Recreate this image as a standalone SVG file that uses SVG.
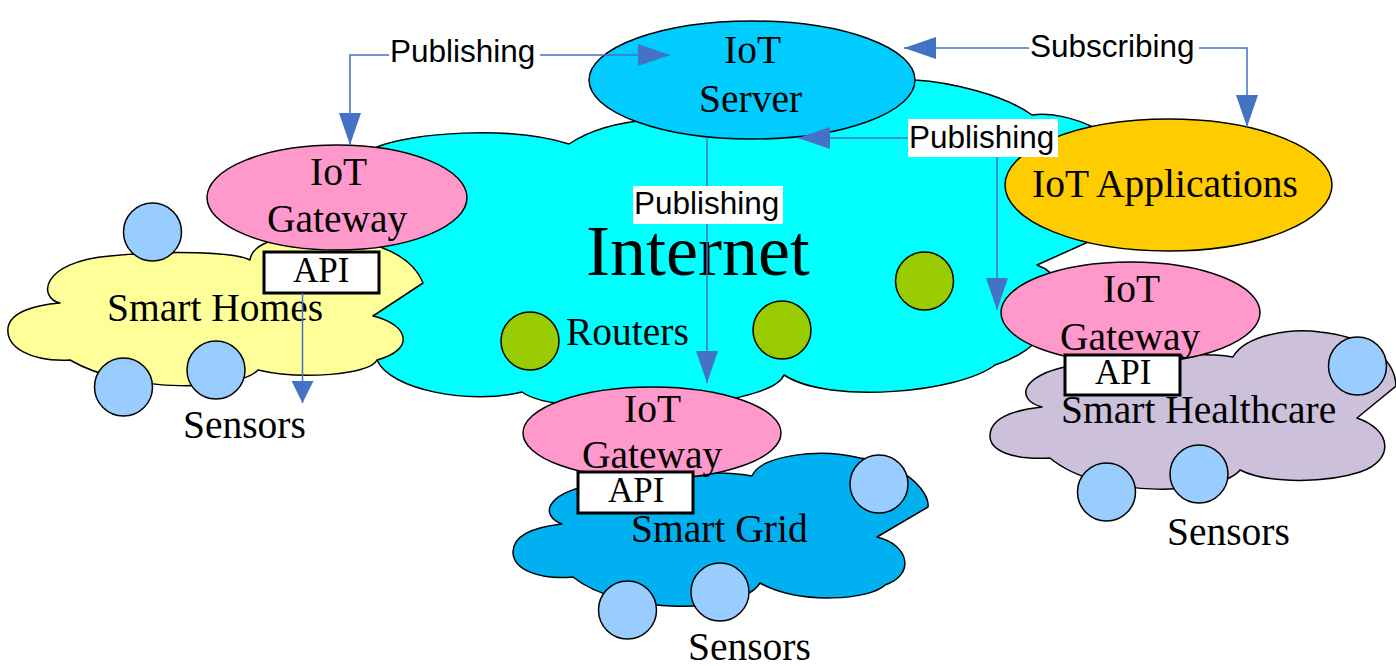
<svg xmlns="http://www.w3.org/2000/svg" width="1396" height="666" viewBox="0 0 1396 666">
  <style>
    .shape { stroke: #000; stroke-width: 1.5; }
    .cloud { stroke: #000; stroke-width: 1.5; stroke-linejoin: round; }
    .sensor { fill: #99CCFF; stroke: #000; stroke-width: 1.5; }
    .router { fill: #99CC00; stroke: #000; stroke-width: 1.5; }
    .gw { fill: #FF99CC; stroke: #000; stroke-width: 1.5; }
    .api { fill: #fff; stroke: #000; stroke-width: 3; }
    .t { font-family: "Liberation Serif", "Times New Roman", serif; font-size: 39.5px; fill: #000; }
    .tapi { font-family: "Liberation Serif", "Times New Roman", serif; font-size: 35px; fill: #000; }
    .big { font-family: "Liberation Serif", "Times New Roman", serif; font-size: 72px; fill: #000; }
    .lbl { font-family: "Liberation Sans", Arial, sans-serif; font-size: 31.5px; fill: #000; }
    .conn { fill: none; stroke: #4472C4; stroke-width: 1.5; }
  </style>
  <defs>
    <marker id="arrow" markerUnits="userSpaceOnUse" viewBox="0 0 32 22" markerWidth="32" markerHeight="22" refX="32" refY="11" orient="auto-start-reverse">
      <path d="M0,0 L32,11 L0,22 Z" fill="#4472C4"/>
    </marker>
    <marker id="arrow-small" markerUnits="userSpaceOnUse" viewBox="0 0 22 22" markerWidth="22" markerHeight="22" refX="22" refY="11" orient="auto">
      <path d="M0,0 L22,11 L0,22 Z" fill="#4472C4"/>
    </marker>
  </defs>

  <!-- Internet cloud -->
  <g id="internet">
    <path class="cloud" fill="#00FFFF" d="M373,316 C350,290 345,190 377,147 C410,133 510,125 569,144 C590,130 620,122 650,120 C700,85 850,72 915,80 C950,82 1005,95 1032,115 C1050,112 1075,118 1095,128 C1140,150 1140,215 1086,243 L1037,265 C1080,280 1060,345 995,365 C960,392 830,405 784,375 C770,410 560,420 522,392 C470,405 390,390 377,360 C360,345 360,325 373,316 Z"/>
    <text class="big" x="586" y="275">Internet</text>
  </g>

  <!-- Routers -->
  <g id="routers">
    <circle class="router" cx="530" cy="341" r="29"/>
    <circle class="router" cx="782" cy="330" r="29"/>
    <circle class="router" cx="924.5" cy="281" r="29"/>
    <text class="t" x="566" y="345">Routers</text>
  </g>

  <!-- Smart Homes cloud with sensors -->
  <g id="smart-homes">
    <path class="cloud" fill="#FFFF99" d="M60,303 C38,298 40,262 110,256 C170,250 235,252 250,260 C252,245 275,235 310,238 C360,235 410,250 423,283 L373,316 C410,325 415,350 377,360 C370,375 300,380 258,370 C240,390 130,395 70,360 C30,362 6,347 8,328 C10,312 35,305 60,303 Z"/>
    <circle class="sensor" cx="152.5" cy="232" r="29"/>
    <circle class="sensor" cx="123.5" cy="387" r="29"/>
    <circle class="sensor" cx="216" cy="370" r="29"/>
    <text class="t" x="107" y="321">Smart Homes</text>
    <text class="t" x="183" y="438">Sensors</text>
  </g>

  <!-- Smart Grid cloud with sensors -->
  <g id="smart-grid">
    <path class="cloud" fill="#00B0F0" d="M562,524 C540,515 545,495 590,485 C640,472 720,470 752,476 C760,455 820,448 860,458 C900,462 930,490 928,507 L877,537 C910,545 915,575 885,585 C870,600 800,605 760,583 C740,615 620,615 573,577 C540,580 513,570 513,552 C513,535 535,527 562,524 Z"/>
    <circle class="sensor" cx="879" cy="484" r="29"/>
    <circle class="sensor" cx="720" cy="592" r="29"/>
    <circle class="sensor" cx="627.5" cy="610" r="29"/>
    <text class="t" x="631" y="542">Smart Grid</text>
    <text class="t" x="688" y="660">Sensors</text>
  </g>

  <!-- Smart Healthcare cloud with sensors -->
  <g id="smart-healthcare">
    <path class="cloud" fill="#CCC0DA" d="M1042,407 C1015,400 1020,375 1070,366 C1130,355 1200,352 1233,357 C1245,335 1290,328 1320,332 C1360,336 1395,355 1396,386 L1357,418 C1392,430 1395,460 1360,472 C1330,482 1270,485 1240,470 C1220,495 1100,500 1050,458 C1010,460 990,450 990,436 C990,418 1015,410 1042,407 Z"/>
    <circle class="sensor" cx="1357.5" cy="366" r="29"/>
    <circle class="sensor" cx="1199" cy="474" r="29"/>
    <circle class="sensor" cx="1106.5" cy="492" r="29"/>
    <text class="t" x="1061" y="423">Smart Healthcare</text>
    <text class="t" x="1167" y="545">Sensors</text>
  </g>

  <!-- IoT Server -->
  <g id="iot-server">
    <ellipse class="shape" fill="#00CCFF" cx="752" cy="80" rx="163" ry="59"/>
    <text class="t" x="724" y="63">IoT</text>
    <text class="t" x="699" y="112">Server</text>
  </g>

  <!-- IoT Applications -->
  <g id="iot-applications">
    <ellipse class="shape" fill="#FFCC00" cx="1168.5" cy="185" rx="163.5" ry="66"/>
    <text class="t" x="1032" y="197">IoT Applications</text>
  </g>

  <!-- Gateways with their API boxes -->
  <g id="gateway-homes">
    <ellipse class="gw" cx="337" cy="197.5" rx="130" ry="52.5"/>
    <text class="t" x="310" y="185">IoT</text>
    <text class="t" x="267" y="232">Gateway</text>
    <rect class="api" x="264" y="252" width="115" height="41"/>
    <text class="tapi" x="293" y="282">API</text>
  </g>
  <g id="gateway-grid">
    <ellipse class="gw" cx="652" cy="433" rx="129" ry="46"/>
    <text class="t" x="624" y="422">IoT</text>
    <text class="t" x="582" y="468">Gateway</text>
    <rect class="api" x="578" y="472" width="115" height="41"/>
    <text class="tapi" x="608" y="502">API</text>
  </g>
  <g id="gateway-healthcare">
    <ellipse class="gw" cx="1130.5" cy="312.5" rx="129.5" ry="50.5"/>
    <text class="t" x="1103" y="302">IoT</text>
    <text class="t" x="1060" y="350">Gateway</text>
    <rect class="api" x="1065" y="355" width="115" height="40"/>
    <text class="tapi" x="1095" y="384">API</text>
  </g>

  <!-- Connectors and their labels -->
  <g id="connectors">
    <path class="conn" d="M350,145 V55 H670" marker-start="url(#arrow)" marker-end="url(#arrow)"/>
    <path class="conn" d="M904,48 H1247 V127" marker-start="url(#arrow)" marker-end="url(#arrow)"/>
    <path class="conn" d="M798,138 H997 V310" marker-start="url(#arrow)" marker-end="url(#arrow)"/>
    <path class="conn" d="M707,137 V383" marker-end="url(#arrow)"/>
    <path class="conn" d="M302.5,293 V403" marker-end="url(#arrow-small)"/>

    <rect x="389" y="36" width="151" height="38" fill="#fff"/>
    <text class="lbl" x="390" y="62">Publishing</text>
    <rect x="1029" y="29" width="170" height="38" fill="#fff"/>
    <text class="lbl" x="1030" y="57">Subscribing</text>
    <rect x="908" y="119" width="150" height="38" fill="#fff"/>
    <text class="lbl" x="909" y="148">Publishing</text>
    <rect x="633" y="186" width="150" height="38" fill="#fff"/>
    <text class="lbl" x="634" y="214">Publishing</text>
  </g>
</svg>
